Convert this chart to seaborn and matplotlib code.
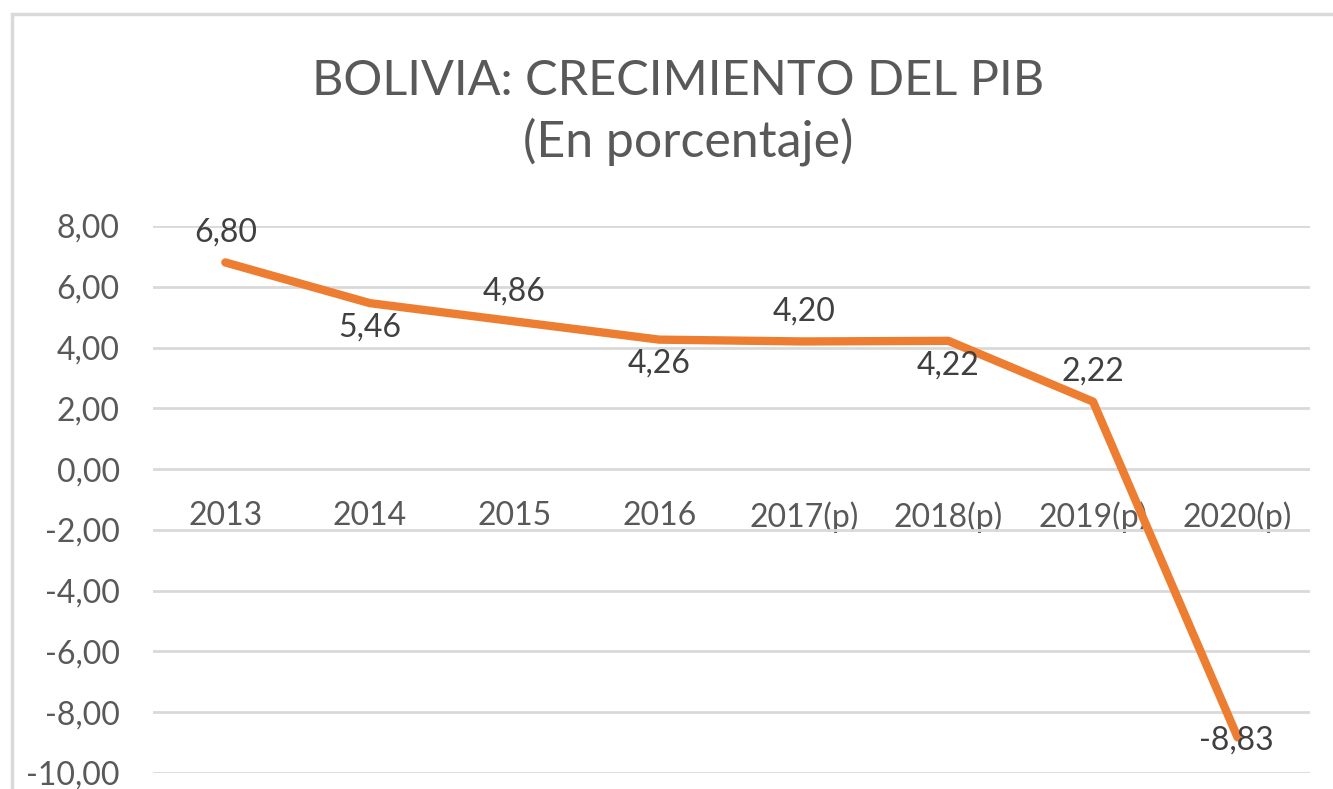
import pandas as pd
import seaborn as sns
import matplotlib.pyplot as plt
from matplotlib.patches import Rectangle

# data
years = ["2013", "2014", "2015", "2016", "2017(p)", "2018(p)", "2019(p)", "2020(p)"]
growth = [6.80, 5.46, 4.86, 4.26, 4.20, 4.22, 2.22, -8.83]
# label placement relative to the point: 1 = above, -1 = below, 0 = on the point
label_side = [1, -1, 1, -1, 1, -1, 1, 0]

data = pd.DataFrame({"year": years, "growth": growth})

sns.set_style("white")
plt.rcParams["font.family"] = ["Lato", "DejaVu Sans"]

fig = plt.figure(figsize=(13.33, 7.89), dpi=100)
ax = fig.add_axes([0.1148, 0.0203, 0.8679, 0.6933])

# chart frame
fig.patches.append(Rectangle((12 / 1333, -0.05), 1.1, 1 - 14 / 789 + 0.05,
                             transform=fig.transFigure, fill=False,
                             edgecolor="#d9d9d9", linewidth=2.5))

sns.lineplot(data=data, x="year", y="growth", color="#ED7D31", linewidth=6,
             sort=False, ax=ax, zorder=3)

ax.set_xlim(-0.5, len(years) - 0.5)
ax.set_ylim(-10, 8)
ax.set_yticks(range(-10, 9, 2))
ax.set_yticklabels([f"{v:.2f}".replace(".", ",") for v in range(-10, 9, 2)])
ax.grid(True, axis="y", color="#d9d9d9", linewidth=2)
ax.set_axisbelow(True)

for s in ["top", "right", "left"]:
    ax.spines[s].set_visible(False)
ax.spines["bottom"].set_position(("data", 0))
ax.spines["bottom"].set_visible(False)

ax.tick_params(axis="both", length=0, labelsize=23, labelcolor="#595959")
ax.tick_params(axis="x", pad=23)
ax.tick_params(axis="y", pad=24)
ax.set_xlabel("")
ax.set_ylabel("")

for i, (v, side) in enumerate(zip(growth, label_side)):
    txt = f"{v:.2f}".replace(".", ",")
    if side == 1:
        off = (0, 15)
    elif side == -1:
        off = (0, -24)
    else:
        off = (-1, -9)
    ax.annotate(txt, (i, v), xytext=off, textcoords="offset points",
                ha="center", va="baseline", fontsize=23, color="#404040")

fig.text(678 / 1333, 1 - 95 / 789, "BOLIVIA: CRECIMIENTO DEL PIB",
         ha="center", va="baseline", fontsize=35, color="#595959")
fig.text(688 / 1333, 1 - 157 / 789, "(En porcentaje)",
         ha="center", va="baseline", fontsize=36, color="#595959")

plt.savefig("out.png", dpi=100)
